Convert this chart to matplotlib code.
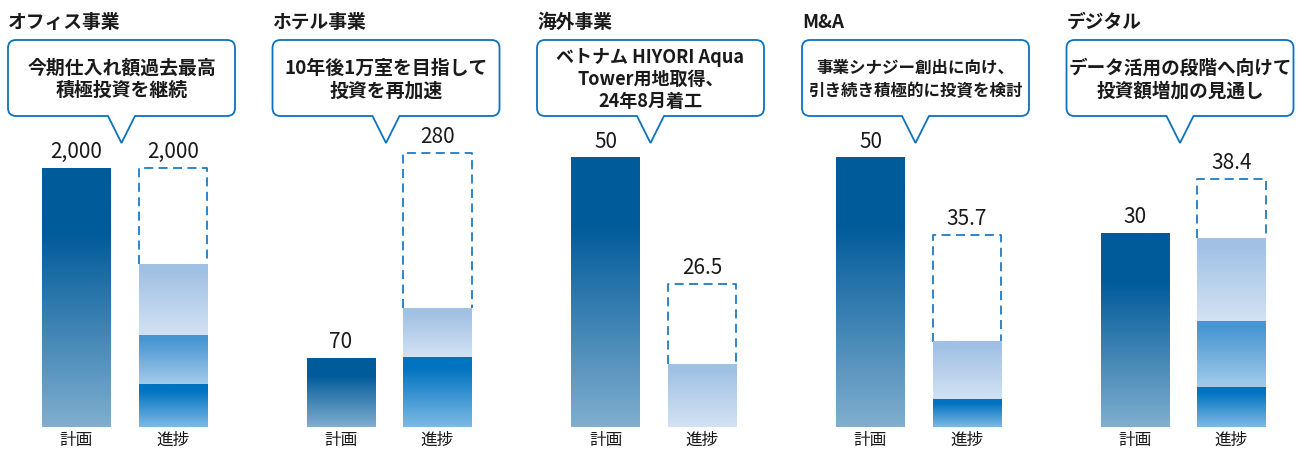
import numpy as np
import matplotlib
matplotlib.use('Agg')
import matplotlib.pyplot as plt
from matplotlib.path import Path
from matplotlib.patches import PathPatch
from matplotlib.colors import to_rgb

plt.rcParams['font.family'] = ['Noto Sans CJK JP', 'DejaVu Sans']

# data
titles = ['オフィス事業', 'ホテル事業', '海外事業', 'M&A', 'デジタル']
notes = ['今期仕入れ額過去最高\n積極投資を継続',
         '10年後1万室を目指して\n投資を再加速',
         'ベトナム HIYORI Aqua\nTower用地取得、\n24年8月着工',
         '事業シナジー創出に向け、\n引き続き積極的に投資を検討',
         'データ活用の段階へ向けて\n投資額増加の見通し']
categories = ['計画', '進捗']
plan = [2000, 70, 50, 50, 30]
progress = [2000, 280, 26.5, 35.7, 38.4]
seg_dark = [332, 71, 0, 5.2, 6.2]
seg_mid = [378, 0, 0, 0, 10.2]
seg_light = [548, 50, 11.7, 10.6, 12.8]

# layout (pixels)
W, H = 1309, 452
plan_cx = [76.5, 341, 605.5, 870.5, 1135]
pitch = 96.5
base_y, top_y = 428, 140
ymax = [2224, 294, 53.5, 53.5, 44.6]
bw = 0.715
note_size = [13.6, 13.6, 13, 11.9, 13.4]
note_spacing = [1.25, 1.25, 1.17, 1.4, 1.25]

plan_stops = [(0, '#80aecf'), (0.75, '#005b9a'), (1, '#005b9a')]
dark_stops = [(0, '#7dbae5'), (0.85, '#0073c1'), (1, '#0073c1')]
mid_stops = [(0, '#a3cbea'), (0.9, '#4796d2'), (1, '#4796d2')]
light_stops = [(0, '#d3e2f3'), (0.9, '#a1c1e4'), (1, '#a1c1e4')]
blue = '#0b72bd'


def grad(ax, rect, stops):
    x0, y0 = rect.get_x(), rect.get_y()
    w, h = rect.get_width(), rect.get_height()
    if h <= 0:
        return
    t = np.linspace(0, 1, 256)
    pos = [p for p, _ in stops]
    cols = np.array([to_rgb(c) for _, c in stops])
    rgb = np.stack([np.interp(t, pos, cols[:, k]) for k in range(3)], axis=1)
    ax.imshow(rgb[::-1][:, None, :], extent=(x0, x0 + w, y0, y0 + h),
              aspect='auto', origin='upper', interpolation='bilinear', zorder=2)


def fp(x, y):
    return (x / W, 1 - y / H)


fig = plt.figure(figsize=(W / 100, H / 100), dpi=100)

for i in range(5):
    left = plan_cx[i] - pitch / 2
    ax = fig.add_axes([left / W, 1 - base_y / H, 2 * pitch / W, (base_y - top_y) / H])

    r = ax.bar(0, plan[i], width=bw, color='none', linewidth=0)
    grad(ax, r[0], plan_stops)

    # dashed outline for the full progress target
    stack = seg_dark[i] + seg_mid[i] + seg_light[i]
    x0, x1 = 1 - bw / 2, 1 + bw / 2
    ax.plot([x0, x0, x1, x1], [stack, progress[i], progress[i], stack],
            color='#1f7cc4', lw=1.3, dashes=(5, 3), zorder=1)

    bottom = 0
    for vals, stops in [(seg_dark, dark_stops), (seg_mid, mid_stops), (seg_light, light_stops)]:
        r = ax.bar(1, vals[i], width=bw, bottom=bottom, color='none', linewidth=0)
        grad(ax, r[0], stops)
        bottom += vals[i]

    for x, v in [(0, plan[i]), (1, progress[i])]:
        ax.annotate(f'{v:,g}', (x, v), xytext=(0, 8), textcoords='offset points',
                    ha='center', va='baseline', fontsize=15, color='#1a1a1a')

    ax.set_xlim(-0.5, 1.5)
    ax.set_ylim(0, ymax[i])
    ax.set_xticks([0, 1], categories, fontsize=12, color='#1a1a1a')
    ax.tick_params(length=0, pad=3)
    ax.set_yticks([])
    for s in ax.spines.values():
        s.set_visible(False)

    # callout box
    L = plan_cx[i] - 68.5
    R = L + 227
    T, B = 41, 117
    cx = (L + R) / 2
    rr = 8
    th = 13.5
    pts = [
        ((L + rr, T), Path.MOVETO), ((R - rr, T), Path.LINETO),
        ((R, T), Path.CURVE3), ((R, T + rr), Path.CURVE3),
        ((R, B - rr), Path.LINETO),
        ((R, B), Path.CURVE3), ((R - rr, B), Path.CURVE3),
        ((cx + th, B), Path.LINETO), ((cx, 144), Path.LINETO), ((cx - th, B), Path.LINETO),
        ((L + rr, B), Path.LINETO),
        ((L, B), Path.CURVE3), ((L, B - rr), Path.CURVE3),
        ((L, T + rr), Path.LINETO),
        ((L, T), Path.CURVE3), ((L + rr, T), Path.CURVE3),
        ((L + rr, T), Path.CLOSEPOLY),
    ]
    path = Path([fp(*p) for p, _ in pts], [c for _, c in pts])
    fig.add_artist(PathPatch(path, transform=fig.transFigure, facecolor='white',
                             edgecolor=blue, lw=1.3))
    fig.text(*fp(cx, 79.5), notes[i], ha='center', va='center', fontsize=note_size[i],
             fontweight='bold', linespacing=note_spacing[i], color='#1a1a1a')
    fig.text(*fp(L, 22), titles[i], ha='left', va='center', fontsize=13.5,
             fontweight='bold', color='#1a1a1a')

fig.savefig('out.png', dpi=100)
